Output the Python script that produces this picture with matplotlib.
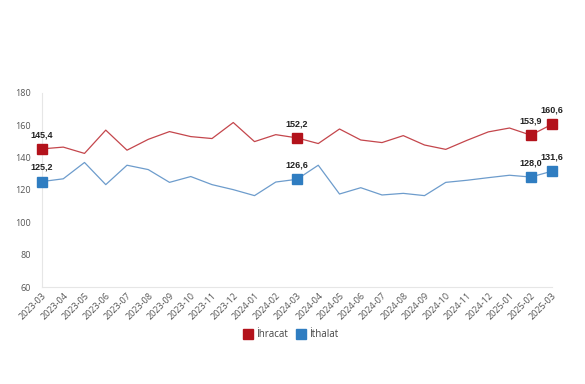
import matplotlib
matplotlib.use("Agg")
import matplotlib.pyplot as plt

months = ["2023-03", "2023-04", "2023-05", "2023-06", "2023-07", "2023-08", "2023-09",
          "2023-10", "2023-11", "2023-12", "2024-01", "2024-02", "2024-03", "2024-04",
          "2024-05", "2024-06", "2024-07", "2024-08", "2024-09", "2024-10", "2024-11",
          "2024-12", "2025-01", "2025-02", "2025-03"]
ihracat = [145.4, 146.5, 142.6, 157.0, 144.6, 151.3, 156.1, 153.0, 151.8, 161.7, 149.9,
           154.2, 152.2, 148.7, 157.7, 150.9, 149.3, 153.6, 147.8, 145.1, 150.7, 155.9,
           158.3, 153.9, 160.6]
ithalat = [125.2, 126.9, 137.0, 123.3, 135.3, 132.6, 124.7, 128.3, 123.3, 120.2, 116.5,
           124.9, 126.6, 135.3, 117.5, 121.4, 116.9, 117.9, 116.5, 124.7, 126.0, 127.6,
           129.1, 128.0, 131.6]
marked = [0, 12, 23, 24]

RED_LINE, RED_MARK = "#c4464c", "#b3121b"
BLUE_LINE, BLUE_MARK = "#6d9ccc", "#2f7dc1"

plt.rcParams["font.family"] = ["Open Sans", "DejaVu Sans"]

fig = plt.figure(figsize=(5.85, 3.84), dpi=100)
ax = fig.add_axes([0.0718, 0.2526, 0.8718, 0.5054])
x = list(range(len(months)))

for vals, lc, mc, name in [(ihracat, RED_LINE, RED_MARK, "İhracat"),
                           (ithalat, BLUE_LINE, BLUE_MARK, "İthalat")]:
    ax.plot(x, vals, color=lc, linewidth=0.9)
    ax.plot([x[i] for i in marked], [vals[i] for i in marked], linestyle="none",
            marker="s", markersize=7.5, color=mc, label=name, clip_on=False, zorder=4)
    for i in marked:
        ax.annotate(f"{vals[i]:.1f}".replace(".", ","), (x[i], vals[i]),
                    xytext=(0, 7), textcoords="offset points", ha="center", va="bottom",
                    fontsize=6.5, fontweight="bold", color="#222222",
                    family=["Liberation Sans", "DejaVu Sans"])

ax.set_xlim(0, len(months) - 1)
ax.set_ylim(60, 180)
ax.set_yticks(range(60, 181, 20))
ax.set_xticks(x, months, rotation=45, ha="right", rotation_mode="anchor")
ax.tick_params(axis="both", length=0, labelsize=6.5, colors="#555555")
ax.tick_params(axis="x", pad=3)
ax.tick_params(axis="y", pad=8)
for side in ["top", "right"]:
    ax.spines[side].set_visible(False)
for side in ["left", "bottom"]:
    ax.spines[side].set_color("#e6e6e6")
    ax.spines[side].set_linewidth(0.8)

handles, labels = ax.get_legend_handles_labels()
fig.legend(handles, labels, loc="center", bbox_to_anchor=(0.497, 0.128), ncol=2,
           frameon=False, fontsize=7, handlelength=1.0, handletextpad=0.4,
           columnspacing=0.8, markerscale=1.0, labelcolor="#444444")

fig.savefig("out.png", dpi=100)
